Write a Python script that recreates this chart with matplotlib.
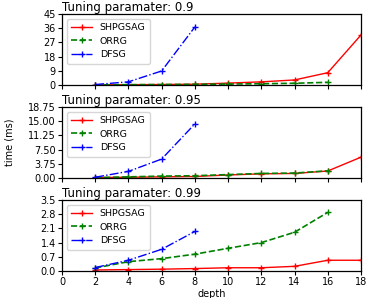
import matplotlib
matplotlib.use('Agg')
import matplotlib.pyplot as plt

# depth values
depth_shp = [2, 4, 6, 8, 10, 12, 14, 16, 18]
depth_orrg = [2, 4, 6, 8, 10, 12, 14, 16]
depth_dfsg = [2, 4, 6, 8]

titles = ["Tuning paramater: 0.9", "Tuning paramater: 0.95", "Tuning paramater: 0.99"]

# time (ms) per tuning parameter
shp_09 = [0.1, 0.2, 0.3, 0.5, 1.2, 2.0, 3.2, 7.8, 31.7]
orrg_09 = [0.1, 0.2, 0.3, 0.4, 0.6, 0.8, 1.1, 1.7]
dfsg_09 = [0.3, 2.0, 8.9, 36.8]

shp_095 = [0.1, 0.2, 0.3, 0.4, 0.8, 1.1, 1.2, 1.85, 5.5]
orrg_095 = [0.1, 0.3, 0.5, 0.6, 0.9, 1.2, 1.3, 1.9]
dfsg_095 = [0.2, 1.75, 5.0, 14.3]

shp_099 = [0.05, 0.07, 0.09, 0.12, 0.16, 0.16, 0.23, 0.53, 0.53]
orrg_099 = [0.15, 0.46, 0.61, 0.83, 1.12, 1.40, 1.91, 2.89]
dfsg_099 = [0.17, 0.53, 1.07, 1.95]

yticks = [
    [0, 9, 18, 27, 36, 45],
    [0.0, 3.75, 7.5, 11.25, 15.0, 18.75],
    [0.0, 0.7, 1.4, 2.1, 2.8, 3.5],
]
ytick_fmt = ["{:.0f}", "{:.2f}", "{:.1f}"]

shp = [shp_09, shp_095, shp_099]
orrg = [orrg_09, orrg_095, orrg_099]
dfsg = [dfsg_09, dfsg_095, dfsg_099]

fig = plt.figure(figsize=(3.66, 2.98), dpi=100)
axes = []
tops = [14, 107, 200]
for i in range(3):
    ax = fig.add_axes([62 / 366, 1 - (tops[i] + 71) / 298, 299 / 366, 71 / 298])
    axes.append(ax)
    ax.plot(depth_shp, shp[i], color='red', linestyle='-', marker='+', ms=4, lw=1.0, label='SHPGSAG')
    ax.plot(depth_orrg, orrg[i], color='green', linestyle='--', marker='+', ms=4, lw=1.2, label='ORRG')
    ax.plot(depth_dfsg, dfsg[i], color='blue', linestyle='-.', marker='+', ms=4, lw=1.0, label='DFSG')
    ax.set_xlim(0, 18)
    ax.set_ylim(yticks[i][0], yticks[i][-1])
    ax.set_yticks(yticks[i])
    ax.set_yticklabels([ytick_fmt[i].format(v) for v in yticks[i]])
    ax.set_xticks(range(0, 19, 2))
    ax.tick_params(labelsize=7, length=3, width=0.8, pad=1.5)
    if i < 2:
        ax.set_xticklabels([])
    ax.set_title(titles[i], loc='left', fontsize=8.5, pad=1.5)
    ax.legend(loc='upper left', fontsize=6.8, handlelength=2.2, borderpad=0.5,
              labelspacing=0.45, frameon=True)
    for s in ax.spines.values():
        s.set_linewidth(0.9)

axes[2].set_xlabel('depth', fontsize=7, labelpad=1)
axes[1].set_ylabel('time (ms)', fontsize=7, labelpad=10)

fig.savefig('out.png', dpi=100)
